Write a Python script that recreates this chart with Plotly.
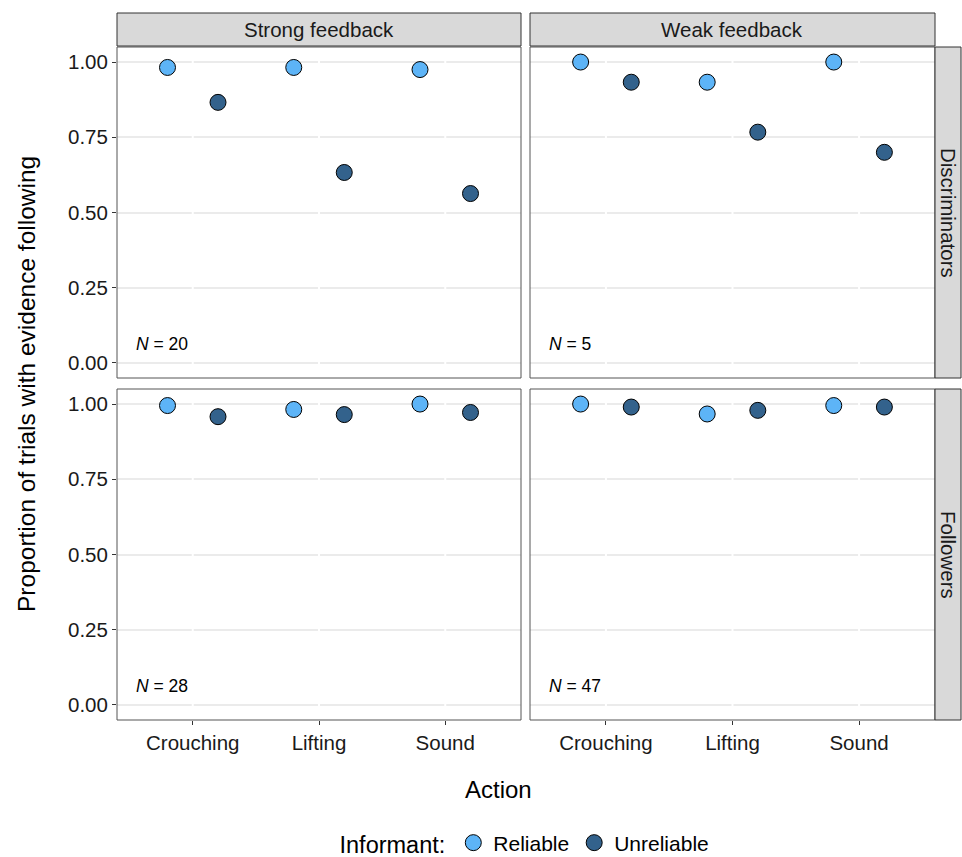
import plotly.graph_objects as go

actions = ["Crouching", "Lifting", "Sound"]
feedback = ["Strong feedback", "Weak feedback"]
groups = ["Discriminators", "Followers"]
informants = ["Reliable", "Unreliable"]

disc_strong_rel = [0.982, 0.982, 0.975]
disc_strong_unr = [0.866, 0.633, 0.563]
disc_weak_rel = [1.000, 0.933, 1.000]
disc_weak_unr = [0.933, 0.767, 0.700]
foll_strong_rel = [0.995, 0.982, 1.000]
foll_strong_unr = [0.958, 0.965, 0.972]
foll_weak_rel = [1.000, 0.967, 0.995]
foll_weak_unr = [0.990, 0.979, 0.990]
n_labels = [["20", "5"], ["28", "47"]]

y_ticks = [0, 0.25, 0.5, 0.75, 1.0]
y_ticklabels = ["0.00", "0.25", "0.50", "0.75", "1.00"]

data = {
    (0, 0): (disc_strong_rel, disc_strong_unr),
    (0, 1): (disc_weak_rel, disc_weak_unr),
    (1, 0): (foll_strong_rel, foll_strong_unr),
    (1, 1): (foll_weak_rel, foll_weak_unr),
}

colors = {"Reliable": "#5DB4F7", "Unreliable": "#33628C"}
dodge = {"Reliable": -0.2, "Unreliable": 0.2}

W, H = 962, 857
xdom = [(117 / W, 521 / W), (530 / W, 935 / W)]
ydom = [(1 - 378 / H, 1 - 47 / H), (1 - 720 / H, 1 - 389 / H)]

fig = go.Figure()
FONT = "Liberation Sans, Arial, sans-serif"
TXT = "#1a1a1a"

for r in range(2):
    for c in range(2):
        idx = r * 2 + c + 1
        xa = "x" if idx == 1 else f"x{idx}"
        ya = "y" if idx == 1 else f"y{idx}"
        rel, unr = data[(r, c)]
        for inf, vals in zip(informants, (rel, unr)):
            xs = [i + 1 + dodge[inf] for i in range(len(actions))]
            fig.add_trace(go.Scatter(
                x=xs, y=vals, mode="markers", xaxis=xa, yaxis=ya,
                name=inf, legendgroup=inf, showlegend=(idx == 1),
                marker=dict(size=16, color=colors[inf],
                            line=dict(color="black", width=1)),
                cliponaxis=False,
            ))
        xkey = "xaxis" if idx == 1 else f"xaxis{idx}"
        ykey = "yaxis" if idx == 1 else f"yaxis{idx}"
        fig.layout[xkey] = dict(
            domain=xdom[c], anchor=ya, range=[0.4, 3.6],
            tickmode="array", tickvals=[1, 2, 3],
            ticktext=actions,
            showticklabels=(r == 1),
            ticks="outside" if r == 1 else "", ticklen=4, tickcolor="#333333",
            showgrid=True, gridcolor="white", gridwidth=2,
            zeroline=False, showline=False,
            tickfont=dict(size=20.5, color=TXT, family=FONT),
        )
        fig.layout[ykey] = dict(
            domain=ydom[r], anchor=xa, range=[-0.05, 1.05],
            tickmode="array", tickvals=y_ticks, ticktext=y_ticklabels,
            showticklabels=(c == 0),
            ticks="outside" if c == 0 else "", ticklen=4, tickcolor="#333333",
            showgrid=True, gridcolor="#EBEBEB", gridwidth=1.5,
            zeroline=False, showline=False,
            tickfont=dict(size=20.5, color=TXT, family=FONT),
        )
        for k in range(len(actions)):
            fig.add_shape(type="line", xref=xa, yref=ya,
                          x0=k + 1, x1=k + 1, y0=-0.05, y1=1.05,
                          line=dict(color="white", width=2), layer="between")
        fig.add_shape(type="rect", xref="paper", yref="paper",
                      x0=xdom[c][0], x1=xdom[c][1], y0=ydom[r][0], y1=ydom[r][1],
                      line=dict(color="#555555", width=1), layer="above")
        fig.add_annotation(x=0.535, y=0.062, xref=xa, yref=ya,
                           text=f"<i>N</i> = {n_labels[r][c]}", showarrow=False,
                           xanchor="left", yanchor="middle",
                           font=dict(size=17.5, color="black", family=FONT))

for c in range(2):
    fig.add_shape(type="rect", xref="paper", yref="paper",
                  x0=xdom[c][0], x1=xdom[c][1], y0=1 - 46 / H, y1=1 - 13 / H,
                  fillcolor="#D9D9D9", line=dict(color="#333333", width=1))
    fig.add_annotation(x=(xdom[c][0] + xdom[c][1]) / 2, y=1 - 29.5 / H,
                       xref="paper", yref="paper", text=feedback[c],
                       xanchor="center", yanchor="middle",
                       showarrow=False, font=dict(size=20.5, color=TXT, family=FONT))
for r in range(2):
    fig.add_shape(type="rect", xref="paper", yref="paper",
                  x0=935 / W, x1=961 / W, y0=ydom[r][0], y1=ydom[r][1],
                  fillcolor="#D9D9D9", line=dict(color="#333333", width=1))
    fig.add_annotation(x=948.5 / W, y=(ydom[r][0] + ydom[r][1]) / 2,
                       xref="paper", yref="paper", text=groups[r], textangle=90,
                       xanchor="center", yanchor="middle",
                       showarrow=False, font=dict(size=20.5, color=TXT, family=FONT))

fig.add_annotation(x=26 / W, y=1 - 384 / H, xref="paper", yref="paper",
                   text="Proportion of trials with evidence following", textangle=-90,
                   xanchor="center", yanchor="middle",
                   showarrow=False, font=dict(size=24.5, color="black", family=FONT))
fig.add_annotation(x=498 / W, y=1 - 789 / H, xref="paper", yref="paper",
                   text="Action", showarrow=False, xanchor="center", yanchor="middle",
                   font=dict(size=24, color="black", family=FONT))

fig.update_layout(
    width=W, height=H,
    margin=dict(l=0, r=0, t=0, b=0, autoexpand=False),
    paper_bgcolor="white", plot_bgcolor="white",
    showlegend=True,
    legend=dict(orientation="h", x=526 / W, xanchor="center",
                yref="container", y=1 - 843 / H, yanchor="middle",
                title=dict(text="Informant:", side="left",
                           font=dict(size=23.5, color="black", family=FONT)),
                font=dict(size=21, color="black", family=FONT),
                bgcolor="rgba(0,0,0,0)", itemsizing="trace"),
    font=dict(family=FONT),
)

fig.write_html("out.html", config={"displayModeBar": False},
               post_script="document.body.style.margin='0px';document.body.style.padding='0px';")
